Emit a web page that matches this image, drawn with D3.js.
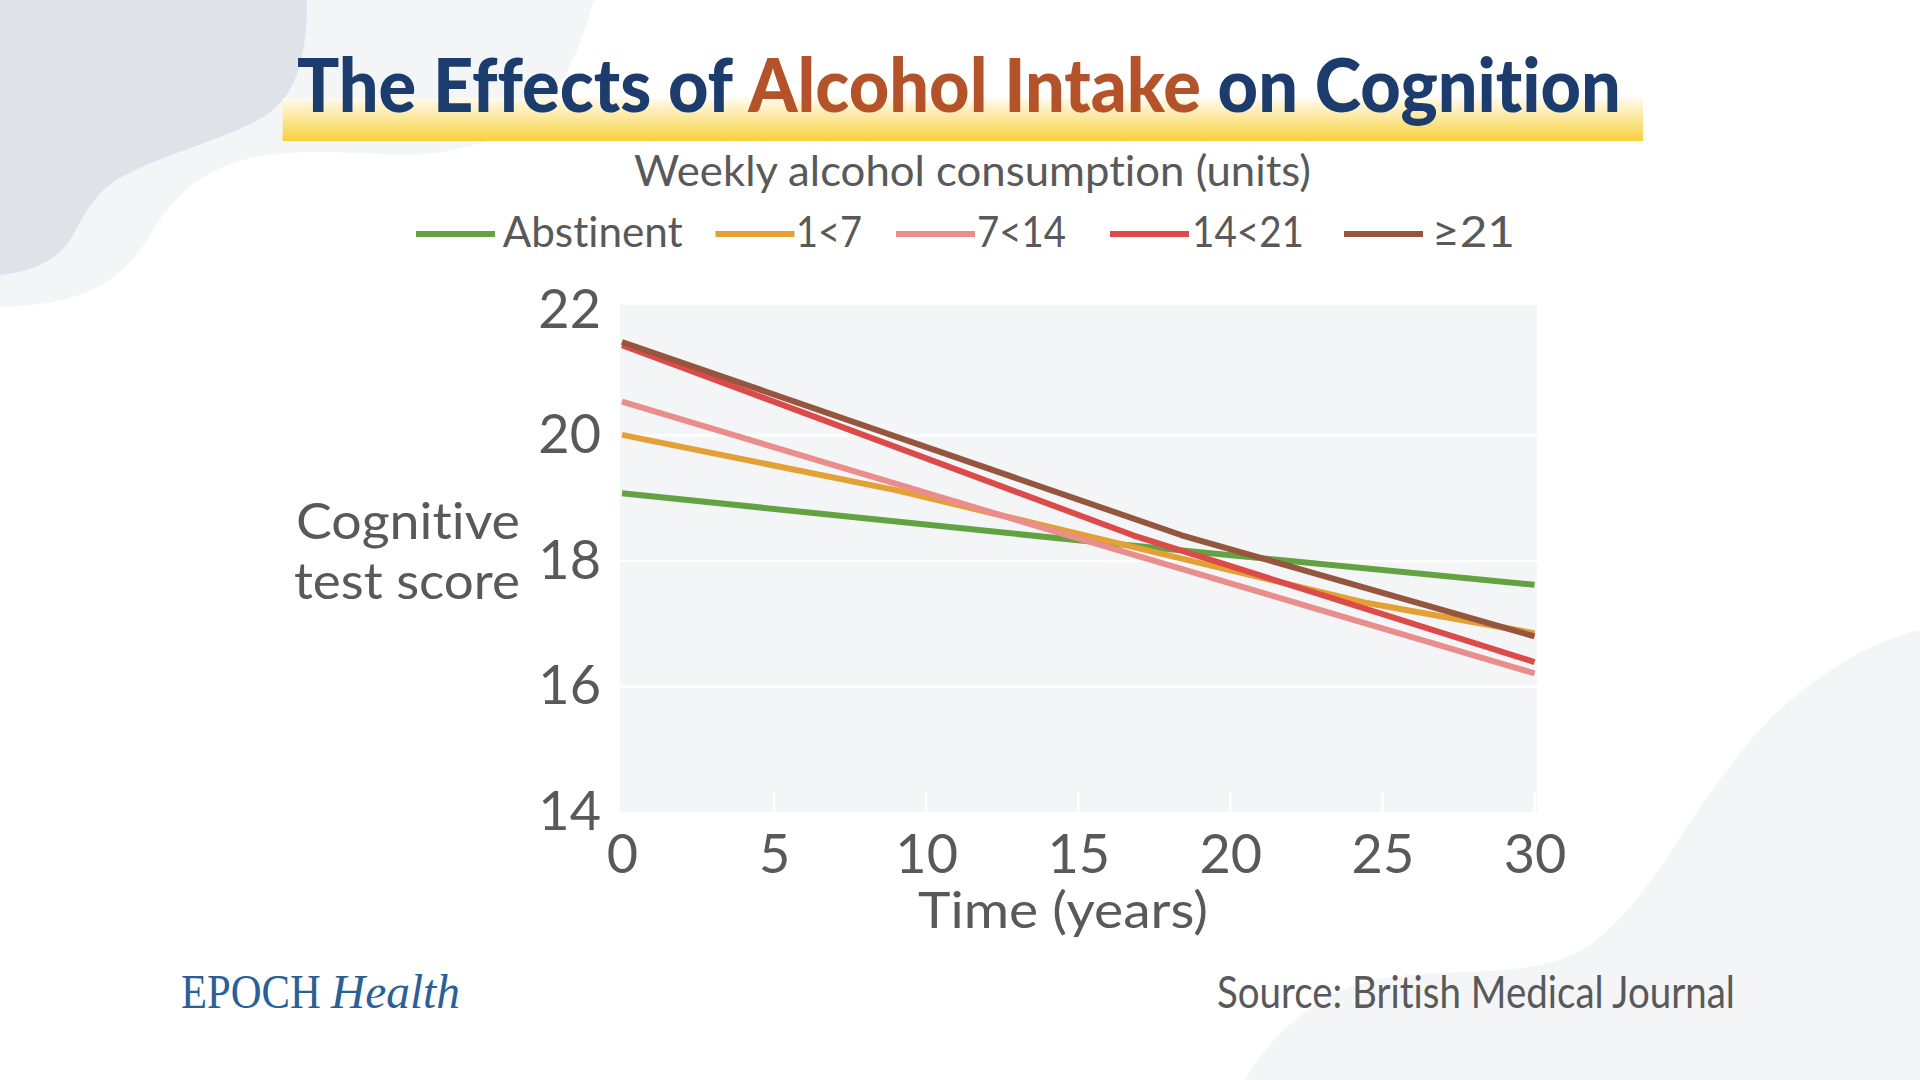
<!DOCTYPE html>
<html><head><meta charset="utf-8">
<script src="https://cdn.jsdelivr.net/npm/d3@7"></script>
<style>body{margin:0;background:#fff}svg{display:block}text{font-variant-ligatures:none;font-feature-settings:"liga" 0,"clig" 0}</style>
</head><body>
<svg id="c" width="1920" height="1080"></svg>
<script>
// ---- data ----
const xTickValues = [0, 5, 10, 15, 20, 25, 30];
const yTickValues = [14, 16, 18, 20, 22];
const gridValues = [16, 18, 20];
const seriesNames = ["Abstinent", "1<7", "7<14", "14<21", "\u226521"];
const seriesColors = ["#62a243", "#e3a035", "#e98e8c", "#dc4a4a", "#95553f"];
const abstinentYears = [0, 15, 30];
const abstinentScores = [19.08, 18.33, 17.62];
const oneToSevenYears = [0, 9, 24.5, 30];
const oneToSevenScores = [20.01, 19.13, 17.33, 16.85];
const sevenToFourteenYears = [0, 15, 30];
const sevenToFourteenScores = [20.54, 18.36, 16.21];
const fourteenToTwentyOneYears = [0, 16.8, 30];
const fourteenToTwentyOneScores = [21.44, 18.41, 16.39];
const twentyOnePlusYears = [0, 18.4, 30];
const twentyOnePlusScores = [21.49, 18.41, 16.80];
const seriesYears = [abstinentYears, oneToSevenYears, sevenToFourteenYears, fourteenToTwentyOneYears, twentyOnePlusYears];
const seriesScores = [abstinentScores, oneToSevenScores, sevenToFourteenScores, fourteenToTwentyOneScores, twentyOnePlusScores];

// ---- layout ----
const svg = d3.select("#c");
const FONT = "Lato, 'Noto Sans', sans-serif";
const GREY = "#595959";
const x = d3.scaleLinear().domain([0, 30]).range([622, 1534.5]);
const y = d3.scaleLinear().domain([14, 22]).range([812, 310]);

function fitWidth(sel, x0, target) {
  const w = sel.node().getComputedTextLength();
  const k = target / w;
  sel.attr("transform", `translate(${x0},0) scale(${k},1) translate(${-x0},0)`);
}

// background blobs
svg.append("rect").attr("width", 1920).attr("height", 1080).attr("fill", "#ffffff");
svg.append("path").attr("fill", "#f4f5f7")
  .attr("d", "M0,0 L594,0 C580,50 560,100 520,125 C490,145 440,155 400,155 C350,153 300,148 250,158 C200,170 170,200 150,235 C120,285 80,305 0,307 Z");
svg.append("path").attr("fill", "#dfe2e7")
  .attr("d", "M0,0 L307,0 C307,50 300,95 263,117 C230,138 160,155 120,178 C90,195 82,222 70,240 C55,262 30,272 0,275 Z");
svg.append("path").attr("fill", "#f4f5f7")
  .attr("d", "M1920,630 C1870,640 1810,680 1772,717 C1740,750 1715,785 1690,822 C1660,870 1630,915 1590,945 C1560,965 1520,970 1470,972 C1420,973 1370,975 1332,995 C1295,1015 1265,1045 1245,1080 L1920,1080 Z");

// title highlight bar
const defs = svg.append("defs");
const grad = defs.append("linearGradient").attr("id", "hl").attr("x1", 0).attr("y1", 0).attr("x2", 0).attr("y2", 1);
grad.append("stop").attr("offset", "0").attr("stop-color", "#fffbee");
grad.append("stop").attr("offset", "1").attr("stop-color", "#f9d13d");
svg.append("rect").attr("x", 282.6).attr("y", 98).attr("width", 1360.4).attr("height", 43).attr("fill", "url(#hl)");

// title
const title = svg.append("text").attr("x", 297).attr("y", 112)
  .style("font-family", "Lato, 'Noto Sans', sans-serif").style("font-weight", 900)
  .style("font-size", "74px").attr("fill", "#1b3c6c");
title.append("tspan").text("The Effects of ");
title.append("tspan").attr("fill", "#b4532a").text("Alcohol Intake");
title.append("tspan").text(" on Cognition");
fitWidth(title, 297, 1322);

// subtitle
const sub = svg.append("text").attr("x", 634).attr("y", 186).text("Weekly alcohol consumption (units)")
  .style("font-family", FONT).style("font-size", "42px").attr("fill", GREY);
fitWidth(sub, 634, 677);

// legend
const legendLineStarts = [416, 715.5, 896, 1110, 1344];
const legendTextStarts = [502.7, 796, 977, 1192, 1432];
const legendTextWidths = [180, 66, 89, 112, 83];
seriesNames.forEach((name, i) => {
  svg.append("line").attr("x1", legendLineStarts[i]).attr("x2", legendLineStarts[i] + 79)
    .attr("y1", 234).attr("y2", 234).attr("stroke", seriesColors[i]).attr("stroke-width", 6);
  const t = svg.append("text").attr("x", legendTextStarts[i]).attr("y", 247).text(name)
    .style("font-family", FONT).style("font-size", "43px").attr("fill", GREY);
  fitWidth(t, legendTextStarts[i], legendTextWidths[i]);
});

// plot background
svg.append("rect").attr("x", 620).attr("y", 305).attr("width", 917).attr("height", 507).attr("fill", "#f4f5f7");

// grid lines
svg.append("g").selectAll("line").data(gridValues).join("line")
  .attr("x1", 620).attr("x2", 1537).attr("y1", d => y(d)).attr("y2", d => y(d))
  .attr("stroke", "#ffffff").attr("stroke-width", 2.5);
// inner white x ticks
svg.append("g").selectAll("line").data(xTickValues.filter(d => d > 0)).join("line")
  .attr("x1", d => x(d)).attr("x2", d => x(d)).attr("y1", 792).attr("y2", 812)
  .attr("stroke", "#ffffff").attr("stroke-width", 2.5);

// axes
const yAxis = svg.append("g").attr("transform", "translate(622,0)")
  .call(d3.axisLeft(y).tickValues(yTickValues).tickSize(0).tickPadding(21).tickFormat(d3.format("d")));
const xAxis = svg.append("g").attr("transform", "translate(0,812)")
  .call(d3.axisBottom(x).tickValues(xTickValues).tickSize(0).tickPadding(23).tickFormat(d3.format("d")));
[yAxis, xAxis].forEach(a => {
  a.select(".domain").remove();
  a.selectAll("text").style("font-family", FONT).style("font-size", "54px").attr("fill", GREY);
});

// lines
const line = d3.line().x(d => x(d[0])).y(d => y(d[1]));
seriesNames.forEach((name, i) => {
  const pts = seriesYears[i].map((yr, j) => [yr, seriesScores[i][j]]);
  svg.append("path").datum(pts).attr("d", line).attr("fill", "none")
    .attr("stroke", seriesColors[i]).attr("stroke-width", 6).attr("stroke-linejoin", "round");
});

// axis titles
const yt1 = svg.append("text").attr("x", 296).attr("y", 539).text("Cognitive")
  .style("font-family", FONT).style("font-size", "51px").attr("fill", GREY);
fitWidth(yt1, 296, 224);
const yt2 = svg.append("text").attr("x", 294).attr("y", 599).text("test score")
  .style("font-family", FONT).style("font-size", "51px").attr("fill", GREY);
fitWidth(yt2, 294, 226);
const xt = svg.append("text").attr("x", 918).attr("y", 928).text("Time (years)")
  .style("font-family", FONT).style("font-size", "51px").attr("fill", GREY);
fitWidth(xt, 918, 290);

// footer
const src = svg.append("text").attr("x", 1217).attr("y", 1008).text("Source: British Medical Journal")
  .style("font-family", FONT).style("font-size", "44px").attr("fill", GREY);
fitWidth(src, 1217, 518);
const ep = svg.append("text").attr("x", 181).attr("y", 1008).text("EPOCH")
  .style("font-family", "'Liberation Serif', 'DejaVu Serif', serif").style("font-size", "48px").attr("fill", "#2b5f97");
fitWidth(ep, 181, 140);
const he = svg.append("text").attr("x", 331).attr("y", 1008).text("Health")
  .style("font-family", "'Liberation Serif', 'DejaVu Serif', serif").style("font-style", "italic").style("font-size", "48px").attr("fill", "#2b5f97");
fitWidth(he, 331, 129);
</script>
</body></html>
